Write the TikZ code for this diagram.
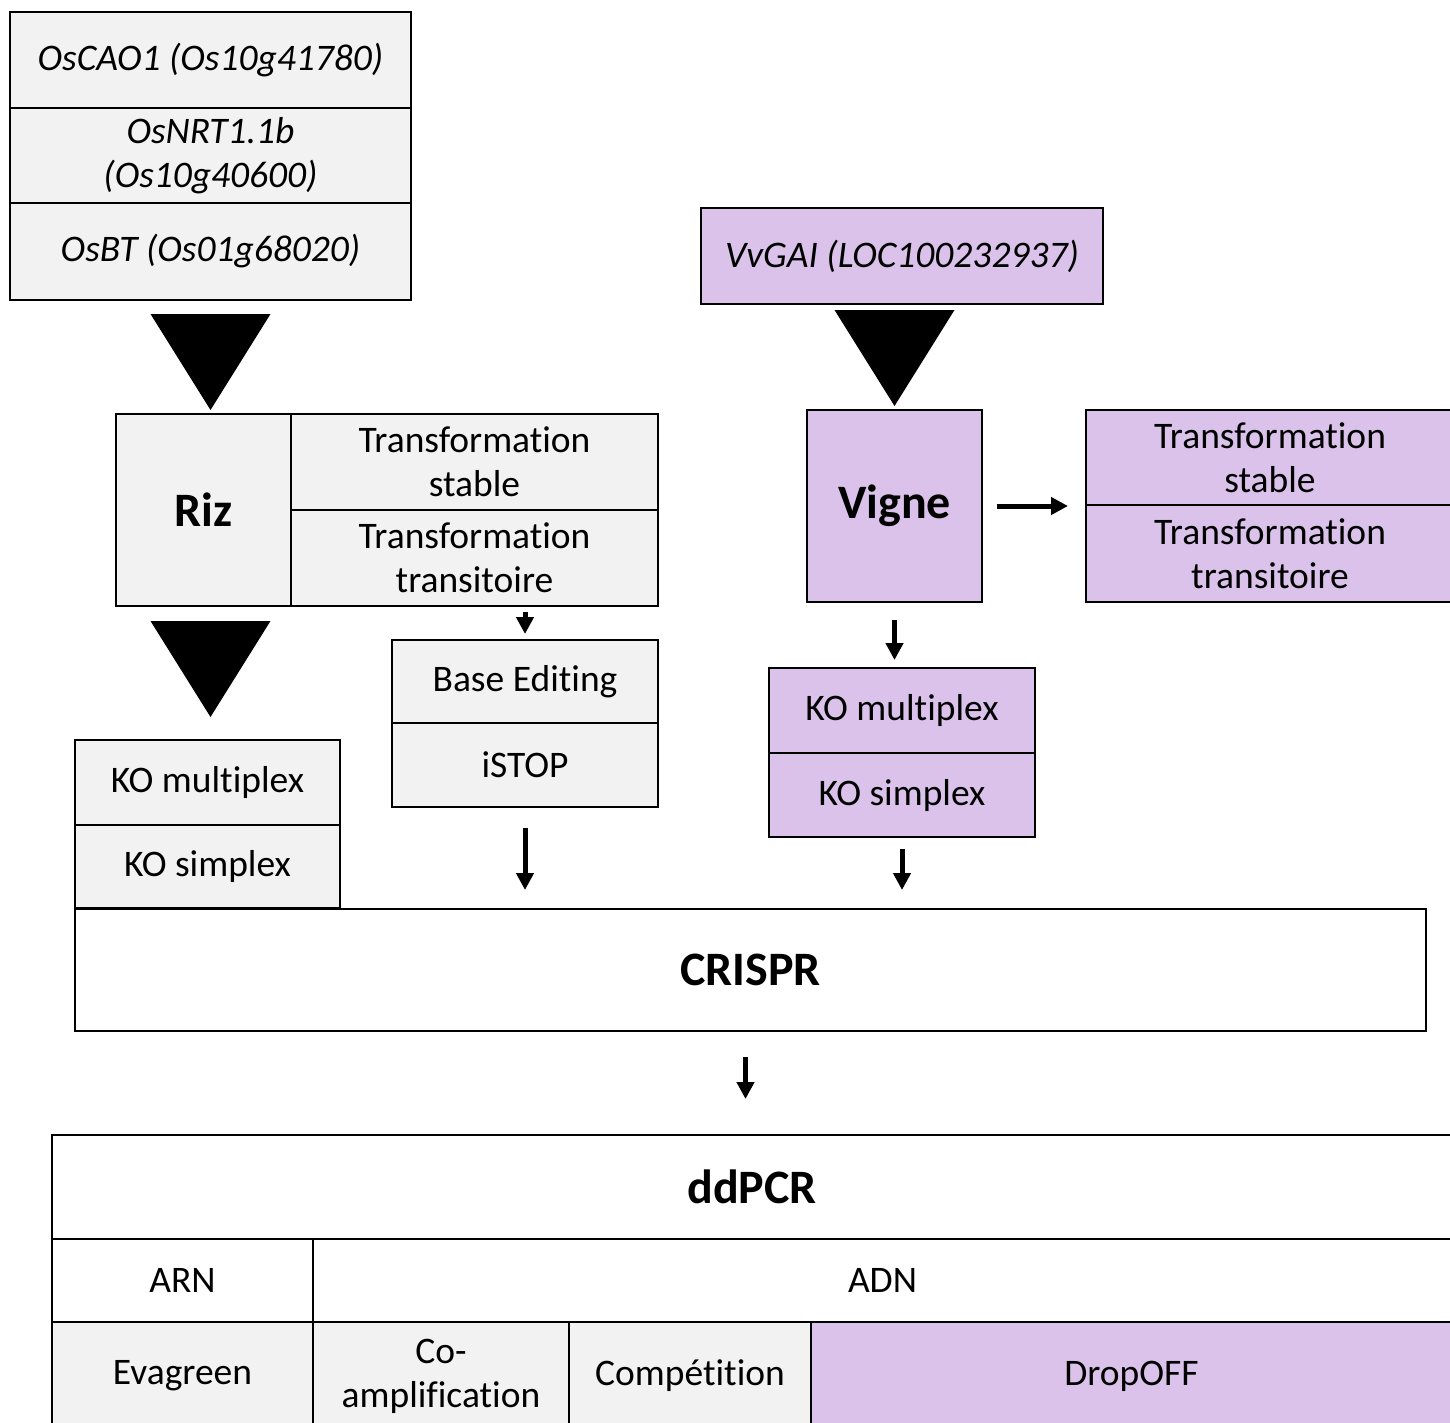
\documentclass[tikz,border=0pt]{standalone}
\usepackage{fontspec}
\setmainfont{Carlito}[Ligatures={NoCommon}]
\usetikzlibrary{arrows.meta,calc}
\definecolor{gcell}{HTML}{F2F2F2}
\definecolor{pcell}{RGB}{218,194,235}
\newcommand\cellbox[7]{\node[#6, minimum width={(#4-#2)*1pt}, minimum height={(#5-#3)*1pt}] (#1) at ({(#2+#4)/2},{(#3+#5)/2}) {#7};}
\tikzset{
  cellst/.style={draw=black, line width=2.5pt, inner sep=0pt, outer sep=0pt, align=center, font=\fontsize{37.5}{44}\selectfont},
  gbox/.style={cellst, fill=gcell},
  pbox/.style={cellst, fill=pcell},
  wbox/.style={cellst, fill=white},
  bigtxt/.style={font=\fontsize{48}{58}\selectfont\bfseries},
  genetxt/.style={font=\fontsize{37.5}{44}\selectfont\itshape},
  arr/.style={line width=5pt, -{Triangle[width=17pt,length=17pt]}},
}
\begin{document}
\begin{tikzpicture}[x=1pt,y=-1pt]
\useasboundingbox (0,0) rectangle (1450,1423);
\clip (0,0) rectangle (1450,1423);
\fill[white] (0,0) rectangle (1450,1423);
% rice genes
\cellbox{g1}{10}{12}{411}{108}{gbox,genetxt}{OsCAO1 (Os10g41780)}
\cellbox{g2}{10}{108}{411}{203}{gbox,genetxt}{OsNRT1.1b\\(Os10g40600)}
\cellbox{g3}{10}{203}{411}{300}{gbox,genetxt}{OsBT (Os01g68020)}
% rice
\cellbox{riz}{116}{414}{291}{606}{gbox,bigtxt}{Riz}
\cellbox{rts}{291}{414}{658}{510}{gbox}{Transformation\\stable}
\cellbox{rtt}{291}{510}{658}{606}{gbox}{Transformation\\transitoire}
\cellbox{be}{392}{640}{658}{723}{gbox}{Base Editing}
\cellbox{istop}{392}{723}{658}{807}{gbox}{iSTOP}
\cellbox{kom}{75}{740}{340}{825}{gbox}{KO multiplex}
\cellbox{kos}{75}{825}{340}{908}{gbox}{KO simplex}
% CRISPR
\cellbox{crispr}{75}{909}{1426}{1031}{wbox,bigtxt}{CRISPR}
% vine
\cellbox{vv}{701}{208}{1103}{304}{pbox,genetxt}{VvGAI (LOC100232937)}
\cellbox{vigne}{807}{410}{982}{602}{pbox,bigtxt}{Vigne}
\cellbox{vts}{1086}{410}{1454}{505}{pbox}{Transformation\\stable}
\cellbox{vtt}{1086}{505}{1454}{602}{pbox}{Transformation\\transitoire}
\cellbox{vkm}{769}{668}{1035}{753}{pbox}{KO multiplex}
\cellbox{vks}{769}{753}{1035}{837}{pbox}{KO simplex}
% ddPCR
\cellbox{dd}{52}{1135}{1452}{1239}{wbox,bigtxt}{ddPCR}
\cellbox{arn}{52}{1239}{313}{1322}{wbox}{ARN}
\cellbox{adn}{313}{1239}{1452}{1322}{wbox}{ADN}
\cellbox{eva}{52}{1322}{313}{1430}{gbox}{Evagreen}
\cellbox{coamp}{313}{1322}{569}{1430}{gbox}{Co-\\amplification}
\cellbox{comp}{569}{1322}{811}{1430}{gbox}{Compétition}
\cellbox{drop}{811}{1322}{1452}{1430}{pbox}{DropOFF}
% big triangles
\fill ($(g3.south)+(-60,14)$) -- ($(g3.south)+(60,14)$) -- ($(g3.south |- riz.north)+(0,-4)$) -- cycle;
\coordinate (t2) at (g3.south |- riz.south);
\fill ($(t2)+(-60,15)$) -- ($(t2)+(60,15)$) -- ($(t2 |- kom.north)+(0,-23)$) -- cycle;
\coordinate (t3) at (vigne.north |- vv.south);
\fill ($(t3)+(-60,6)$) -- ($(t3)+(60,6)$) -- ($(vigne.north)+(0,-4)$) -- cycle;
% arrows
\draw[arr] ($(be.north |- rtt.south)+(0,6)$) -- ($(be.north)+(0,-6)$);
\draw[arr] ($(istop.south)+(0,21)$) -- ($(istop.south |- crispr.north)+(0,-19)$);
\draw[arr] ($(vigne.east)+(15,0)$) -- ($(vts.west |- vigne.east)+(-18,0)$);
\draw[arr] ($(vigne.south)+(0,18)$) -- ($(vigne.south |- vkm.north)+(0,-8)$);
\draw[arr] ($(vks.south)+(0,12)$) -- ($(vks.south |- crispr.north)+(0,-19)$);
\draw[arr] ($(crispr.south)+(-5,26)$) -- ($(crispr.south |- dd.north)+(-5,-36)$);
\end{tikzpicture}
\end{document}
